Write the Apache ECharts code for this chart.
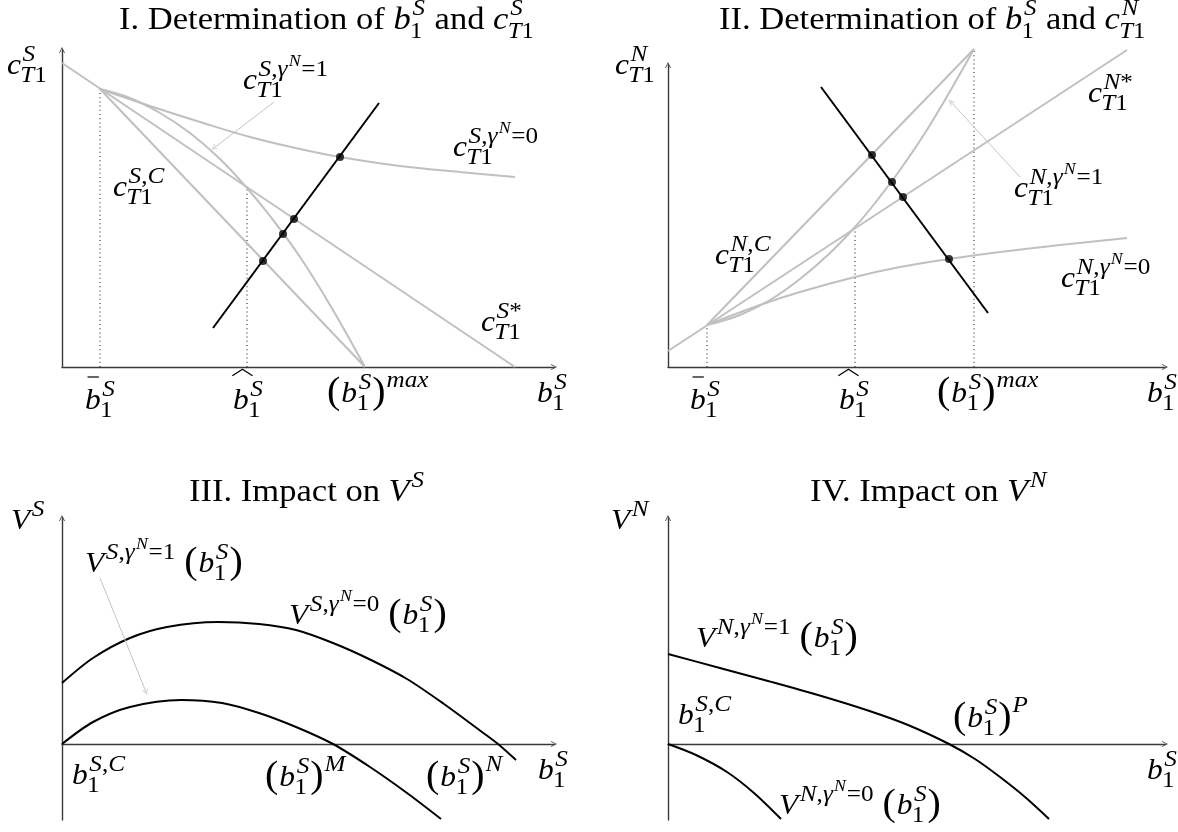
<!DOCTYPE html>
<html>
<head>
<meta charset="utf-8">
<script src="https://cdn.jsdelivr.net/npm/echarts/dist/echarts.min.js"></script>
<style>
html, body { margin: 0; padding: 0; background: #fff; }
#main { width: 1178px; height: 832px; }
</style>
</head>
<body>
<div id="main"></div>
<script>
// ---- panel I : c_T1^S against b_1^S (units) ----
var sStar   = [[0, 30.4], [45.3, 0]];
var sComp   = [[3.8, 27.8], [30.3, 0]];
var sGamma1 = [[3.8, 27.8], [6.8, 26.9], [9.8, 25.4], [12.8, 23.4], [15.8, 20.8], [18.5, 17.9], [20.8, 15.1], [23.8, 11.0], [26.8, 6.2], [30.3, 0]];
var sGamma0 = [[3.8, 27.8], [8.8, 26.1], [13.8, 24.5], [18.8, 23.0], [23.8, 21.8], [27.8, 21.0], [33.8, 20.1], [39.8, 19.5], [45.3, 19.0]];
var sBlack  = [[15.1, 3.9], [31.7, 26.4]];
var sDots   = [[20.1, 10.6], [22.1, 13.3], [23.2, 14.8], [27.8, 21.0]];
var sGuides = [[[3.8, 0], [3.8, 27.8]], [[18.5, 0], [18.5, 17.9]]];
var sPointer = [[21.2, 26.5], [15.2, 21.9]];

// ---- panel II : c_T1^N against b_1^S ----
var nStar   = [[0, 1.6], [45.9, 31.7]];
var nComp   = [[3.9, 4.2], [30.6, 31.8]];
var nGamma1 = [[3.9, 4.2], [7.2, 5.2], [10.2, 6.7], [13.2, 8.8], [16.2, 11.4], [18.7, 14.0], [20.7, 16.4], [23.2, 19.7], [26.2, 24.2], [30.6, 31.8]];
var nGamma0 = [[3.9, 4.2], [9.2, 6.2], [13.2, 7.5], [18.7, 9.0], [23.2, 10.0], [28.1, 10.8], [33.2, 11.5], [39.2, 12.2], [45.9, 12.9]];
var nBlack  = [[15.3, 28.0], [32.0, 5.4]];
var nDots   = [[20.4, 21.2], [22.4, 18.5], [23.5, 17.0], [28.1, 10.8]];
var nGuides = [[[3.9, 0], [3.9, 4.2]], [[18.7, 0], [18.7, 14.0]], [[30.6, 0], [30.6, 31.8]]];
var nPointer = [[35.2, 19.0], [28.3, 26.5]];

// ---- panel III : V^S ----
var vsGamma0 = [[0, 6.1], [3.1, 8.6], [6.8, 10.6], [10.5, 11.7], [15.6, 12.2], [19.7, 12.0], [23.4, 11.4], [27.1, 10.1], [30.8, 8.45], [34.5, 6.5], [38.2, 4.0], [42.0, 1.2], [43.6, 0], [45.4, -1.6]];
var vsGamma1 = [[0, 0], [3.1, 2.2], [6.8, 3.7], [11.9, 4.4], [16.0, 4.1], [19.7, 3.1], [23.4, 1.7], [27.1, 0], [30.8, -2.3], [34.5, -4.9], [37.9, -7.5]];
var vsPointer = [[3.8, 16.6], [8.4, 5.2]];

// ---- panel IV : V^N ----
var vnGamma1 = [[0, 9.0], [5, 7.65], [10, 6.3], [15, 4.9], [20, 3.35], [24, 1.9], [28.1, 0], [30.7, -1.5], [33.2, -3.3], [35.7, -5.3], [38.1, -7.5]];
var vnGamma0 = [[0, 0], [2.8, -1.1], [5.9, -2.8], [8.6, -4.9], [11.3, -7.5]];

// axis extents per panel
var xMax = [49.2, 49.7, 49.2, 49.7];
var yMin = [0, 0, -7.6, -7.6];
var yMax = [31.7, 30.2, 22.6, 22.6];

// math text pieces
var bS = ['b', {sub: ['1'], sup: ['S']}];
function gammaSup(lead, v) { return [lead + ',γ', {sup: ['N']}, '=' + v]; }
var paren = [{big: '('}].concat(bS, [{big: ')'}]);

var labels = [
  {g: 0, at: [5.7, 33.7], title: true, tex: [{rm: 'I. Determination of '}].concat(bS, [{rm: ' and '}, 'c', {sub: ['T1'], sup: ['S']}])},
  {g: 0, at: [-5.5, 29.2], tex: ['c', {sub: ['T1'], sup: ['S']}]},
  {g: 0, at: [18.1, 27.7], tex: ['c', {sub: ['T1'], sup: gammaSup('S', 1)}]},
  {g: 0, at: [39.1, 21.0], tex: ['c', {sub: ['T1'], sup: gammaSup('S', 0)}]},
  {g: 0, at: [5.1, 17.0], tex: ['c', {sub: ['T1'], sup: ['S,C']}]},
  {g: 0, at: [41.9, 3.5], tex: ['c', {sub: ['T1'], sup: ['S*']}]},
  {g: 0, at: [2.3, -4.3], tex: [{acc: 'bar', base: 'b'}, {sub: ['1'], sup: ['S']}]},
  {g: 0, at: [17.1, -4.3], tex: [{acc: 'hat', base: 'b'}, {sub: ['1'], sup: ['S']}]},
  {g: 0, at: [26.5, -3.6], tex: paren.concat([{sup: ['max'], up: 0.5}])},
  {g: 0, at: [47.5, -3.6], tex: bS},

  {g: 1, at: [5.1, 33.7], title: true, tex: [{rm: 'II. Determination of '}].concat(bS, [{rm: ' and '}, 'c', {sub: ['T1'], sup: ['N']}])},
  {g: 1, at: [-5.3, 29.2], tex: ['c', {sub: ['T1'], sup: ['N']}]},
  {g: 1, at: [42.0, 26.4], tex: ['c', {sub: ['T1'], sup: ['N*']}]},
  {g: 1, at: [34.6, 16.9], tex: ['c', {sub: ['T1'], sup: gammaSup('N', 1)}]},
  {g: 1, at: [4.7, 10.2], tex: ['c', {sub: ['T1'], sup: ['N,C']}]},
  {g: 1, at: [39.3, 7.9], tex: ['c', {sub: ['T1'], sup: gammaSup('N', 0)}]},
  {g: 1, at: [2.2, -4.3], tex: [{acc: 'bar', base: 'b'}, {sub: ['1'], sup: ['S']}]},
  {g: 1, at: [17.1, -4.3], tex: [{acc: 'hat', base: 'b'}, {sub: ['1'], sup: ['S']}]},
  {g: 1, at: [26.9, -3.6], tex: paren.concat([{sup: ['max'], up: 0.5}])},
  {g: 1, at: [47.9, -3.6], tex: bS},

  {g: 2, at: [12.7, 24.2], title: true, tex: [{rm: 'III. Impact on '}, 'V', {sup: ['S']}]},
  {g: 2, at: [-5.1, 21.4], tex: ['V', {sup: ['S']}]},
  {g: 2, at: [2.3, 17.1], tex: ['V', {sup: gammaSup('S', 1)}, {rm: ' '}].concat(paren)},
  {g: 2, at: [22.7, 11.9], tex: ['V', {sup: gammaSup('S', 0)}, {rm: ' '}].concat(paren)},
  {g: 2, at: [1.0, -4.1], tex: ['b', {sub: ['1'], sup: ['S,C']}]},
  {g: 2, at: [20.3, -4.3], tex: paren.concat([{sup: ['M'], up: 0.5}])},
  {g: 2, at: [36.4, -4.3], tex: paren.concat([{sup: ['N'], up: 0.5}])},
  {g: 2, at: [47.6, -3.6], tex: bS},

  {g: 3, at: [14.2, 24.2], title: true, tex: [{rm: 'IV. Impact on '}, 'V', {sup: ['N']}]},
  {g: 3, at: [-5.7, 21.4], tex: ['V', {sup: ['N']}]},
  {g: 3, at: [2.8, 9.6], tex: ['V', {sup: gammaSup('N', 1)}, {rm: ' '}].concat(paren)},
  {g: 3, at: [1.0, 1.9], tex: ['b', {sub: ['1'], sup: ['S,C']}]},
  {g: 3, at: [28.5, 1.6], tex: paren.concat([{sup: ['P'], up: 0.5}])},
  {g: 3, at: [11.1, -7.1], tex: ['V', {sup: gammaSup('N', 0)}, {rm: ' '}].concat(paren)},
  {g: 3, at: [47.9, -3.6], tex: bS}
];

var FAMILY = '"Liberation Serif", "DejaVu Serif", serif';
var GRAY = '#c0c0c0';
var ARROW = 'path://M0,10 L5,0 L10,10 L8.6,10 L5,2.8 L1.4,10 Z';

var measureCtx = document.createElement('canvas').getContext('2d');
function fontOf(it, size) { return (it ? 'italic ' : '') + size + 'px ' + FAMILY; }
function widthOf(t, it, size) { measureCtx.font = fontOf(it, size); return measureCtx.measureText(t).width; }

function runs(str) {
    var out = [], cur = null;
    for (var i = 0; i < str.length; i++) {
        var ch = str[i];
        var it = /[A-Za-z\u0370-\u03FF]/.test(ch);
        if (cur && cur.it === it) cur.t += ch;
        else { cur = {t: ch, it: it}; out.push(cur); }
    }
    return out;
}

// lays out a little math expression, baseline at y = base
function layout(parts, sizes, lvl, x, base, out) {
    var size = sizes[Math.min(lvl, sizes.length - 1)];
    var prevItalic = false;
    parts.forEach(function (p) {
        if (typeof p === 'string') {
            runs(p).forEach(function (r) {
                out.push({t: r.t, it: r.it, size: size, x: x, y: base});
                x += widthOf(r.t, r.it, size);
                prevItalic = r.it;
            });
        } else if (p.rm !== undefined) {
            out.push({t: p.rm, it: false, size: size, x: x, y: base});
            x += widthOf(p.rm, false, size);
            prevItalic = false;
        } else if (p.big) {
            var bs = Math.round(size * 1.27);
            out.push({t: p.big, it: false, size: bs, x: x, y: base + size * 0.04});
            x += widthOf(p.big, false, bs) + 1;
            prevItalic = false;
        } else if (p.acc) {
            var w = widthOf(p.base, true, size);
            out.push({t: p.base, it: true, size: size, x: x, y: base});
            if (p.acc === 'bar') {
                out.push({acc: 'bar', pts: [[x + size * 0.08, base - size * 1.1], [x + size * 0.44, base - size * 1.1]]});
            } else {
                out.push({acc: 'hat', pts: [[x - size * 0.02, base - size * 1.14], [x + size * 0.3, base - size * 1.36], [x + size * 0.62, base - size * 1.14]]});
            }
            x += w;
            prevItalic = true;
        } else {
            var xe = x;
            if (p.sup) {
                xe = Math.max(xe, layout(p.sup, sizes, lvl + 1, x + (prevItalic ? size * 0.05 : 0), base - (p.up || 0.44) * size, out));
            }
            if (p.sub) {
                xe = Math.max(xe, layout(p.sub, sizes, lvl + 1, x - (prevItalic ? size * 0.02 : 0), base + (p.sup ? 0.27 : 0.18) * size, out));
            }
            x = xe + size * 0.03;
            prevItalic = false;
        }
    });
    return x;
}

function mathGroup(tex, sizes, px, py, stretch) {
    var out = [];
    layout(tex, sizes, 0, 0, 0, out);
    var children = out.map(function (e) {
        if (e.acc) {
            return {type: 'polyline', shape: {points: e.pts}, style: {stroke: '#000', lineWidth: 1.2, fill: null}};
        }
        return {
            type: 'text', x: e.x, y: e.y - e.size * 0.3,
            style: {text: e.t, font: fontOf(e.it, e.size), fill: '#000', align: 'left', verticalAlign: 'middle'}
        };
    });
    return {type: 'group', x: px, y: py, scaleX: stretch, silent: true, children: children};
}

var gridPos = [
    {left: 62, top: 50, width: 492, height: 317},
    {left: 668, top: 65, width: 497, height: 302},
    {left: 62, top: 518, width: 492, height: 302},
    {left: 668, top: 518, width: 497, height: 302}
];

var xAxes = [], yAxes = [];
for (var g = 0; g < 4; g++) {
    var axisLine = {show: true, onZero: true, symbol: ['none', ARROW], symbolSize: [9, 6], lineStyle: {color: '#3a3a3a', width: 1.4}};
    xAxes.push({gridIndex: g, type: 'value', min: 0, max: xMax[g], axisLine: axisLine,
        axisTick: {show: false}, axisLabel: {show: false}, splitLine: {show: false}});
    yAxes.push({gridIndex: g, type: 'value', min: yMin[g], max: yMax[g], axisLine: axisLine,
        axisTick: {show: false}, axisLabel: {show: false}, splitLine: {show: false}});
}

function curve(g, data, color, smooth) {
    return {type: 'line', xAxisIndex: g, yAxisIndex: g, data: data, showSymbol: false, symbol: 'none',
        smooth: smooth || false, clip: false, silent: true, z: 2,
        lineStyle: {color: color, width: 2}};
}
function guide(g, data) {
    return {type: 'line', xAxisIndex: g, yAxisIndex: g, data: data, showSymbol: false, symbol: 'none',
        clip: false, silent: true, z: 1, lineStyle: {color: '#222', width: 1.1, type: [1, 3.2]}};
}
function dots(g, data) {
    return {type: 'scatter', xAxisIndex: g, yAxisIndex: g, data: data, symbolSize: 8, silent: true, z: 5,
        itemStyle: {color: '#000'}};
}
function pointer(g, data) {
    return {type: 'lines', coordinateSystem: 'cartesian2d', xAxisIndex: g, yAxisIndex: g, silent: true, z: 3,
        symbol: ['none', ARROW], symbolSize: [8, 6],
        lineStyle: {color: '#c4c4c4', width: 1, opacity: 1, curveness: 0},
        data: [{coords: data}]};
}

var series = [
    curve(0, sStar, GRAY), curve(0, sComp, GRAY), curve(0, sGamma1, GRAY, 0.4), curve(0, sGamma0, GRAY, 0.4),
    curve(0, sBlack, '#000'), dots(0, sDots), pointer(0, sPointer),
    curve(1, nStar, GRAY), curve(1, nComp, GRAY), curve(1, nGamma1, GRAY, 0.4), curve(1, nGamma0, GRAY, 0.4),
    curve(1, nBlack, '#000'), dots(1, nDots), pointer(1, nPointer),
    curve(2, vsGamma0, '#000', 0.3), curve(2, vsGamma1, '#000', 0.3), pointer(2, vsPointer),
    curve(3, vnGamma1, '#000', 0.3), curve(3, vnGamma0, '#000', 0.3)
];
sGuides.forEach(function (d) { series.push(guide(0, d)); });
nGuides.forEach(function (d) { series.push(guide(1, d)); });

var chart = echarts.init(document.getElementById('main'));
chart.setOption({
    animation: false,
    backgroundColor: '#fff',
    grid: gridPos,
    xAxis: xAxes,
    yAxis: yAxes,
    series: series
});

var graphics = labels.map(function (lb) {
    var p = chart.convertToPixel({gridIndex: lb.g}, lb.at);
    if (lb.title) return mathGroup(lb.tex, [32, 23, 16], p[0], p[1], 1.08);
    return mathGroup(lb.tex, [30, 24, 17], p[0], p[1], 1.05);
});
chart.setOption({graphic: graphics});

window.addEventListener('resize', function () { chart.resize(); });
</script>
</body>
</html>
